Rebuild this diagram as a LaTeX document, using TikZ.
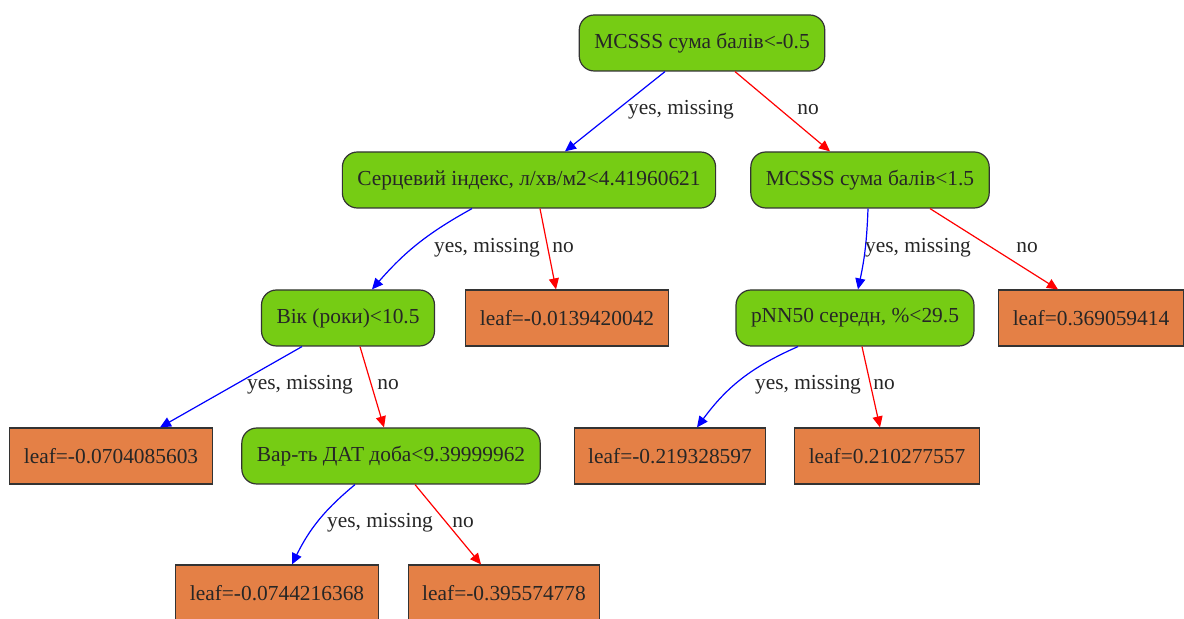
\documentclass[tikz,border=0pt]{standalone}
\usepackage{fontspec}
\setmainfont{Liberation Serif}
\usetikzlibrary{arrows.meta}
\usetikzlibrary{positioning}
\definecolor{splitgreen}{HTML}{76CC14}
\definecolor{leaforange}{HTML}{E48046}
\tikzset{
  split/.style={draw=black!80, fill=splitgreen, rounded corners=7.5pt,
    line width=0.6pt, minimum height=28pt, inner xsep=7.5pt,
    font=\fontsize{10.7}{12}\selectfont, text=black!85},
  leaf/.style={draw=black!80, fill=leaforange,
    line width=0.6pt, minimum height=28pt, inner xsep=7pt,
    font=\fontsize{10.7}{12}\selectfont, text=black!85},
  lbl/.style={inner sep=0, font=\fontsize{10.7}{12}\selectfont, text=black!85},
  yesarrow/.style={-{Triangle[length=5.5pt,width=5pt]}, blue, line width=0.6pt},
  noarrow/.style={-{Triangle[length=5.5pt,width=5pt]}, red, line width=0.6pt}
}

\begin{document}
\begin{tikzpicture}[x=0.5pt,y=0.5pt]
  \useasboundingbox (0,0) rectangle (1184,-619);
  % split nodes
  \node[split] (root) at (702,-43) {MCSSS сума балів<-0.5};
  \node[split] (heart) at (529,-180) {Серцевий індекс, л/хв/м2<4.41960621};
  \node[split] (mcsss) at (870,-180) {MCSSS сума балів<1.5};
  \node[split] (age) at (348,-318) {Вік (роки)<10.5};
  \node[split] (pnn) at (855,-318) {pNN50 середн, \%<29.5};
  \node[split] (dat) at (391,-456) {Вар-ть ДАТ доба<9.39999962};
  % leaves
  \node[leaf] (l1) at (567,-318) {leaf=-0.0139420042};
  \node[leaf] (l2) at (1091,-318) {leaf=0.369059414};
  \node[leaf] (l3) at (111,-456) {leaf=-0.0704085603};
  \node[leaf] (l4) at (670,-456) {leaf=-0.219328597};
  \node[leaf] (l5) at (887,-456) {leaf=0.210277557};
  \node[leaf] (l6) at (277,-593) {leaf=-0.0744216368};
  \node[leaf] (l7) at (504,-593) {leaf=-0.395574778};
  % edges
  \draw[yesarrow] ([xshift=-18.5pt]root.south) -- ([xshift=18pt]heart.north);
  \draw[noarrow] ([xshift=16.5pt]root.south) -- ([xshift=-20pt]mcsss.north);
  \draw[yesarrow] ([xshift=-28.5pt]heart.south) to[bend right=10] ([xshift=12pt]age.north);
  \draw[noarrow] ([xshift=5.5pt]heart.south) -- ([xshift=-5.5pt]l1.north);
  \draw[yesarrow] ([xshift=-1pt]mcsss.south) to[bend left=5] ([xshift=1.5pt]pnn.north);
  \draw[noarrow] ([xshift=30pt]mcsss.south) -- ([xshift=-16.5pt]l2.north);
  \draw[yesarrow] ([xshift=-23pt]age.south) -- ([xshift=24.5pt]l3.north);
  \draw[noarrow] ([xshift=6pt]age.south) -- ([xshift=-3.5pt]dat.north);
  \draw[yesarrow] ([xshift=-28.5pt]pnn.south) to[bend right=15] ([xshift=13.5pt]l4.north);
  \draw[noarrow] ([xshift=3.5pt]pnn.south) -- ([xshift=-3.5pt]l5.north);
  \draw[yesarrow] ([xshift=-18pt]dat.south) to[bend right=12] ([xshift=7.5pt]l6.north);
  \draw[noarrow] ([xshift=12pt]dat.south) -- ([xshift=-11.5pt]l7.north);
  % edge labels
  \node[lbl] (t1) at (681,-110) {yes, missing};
  \node[lbl] (t2) at (808,-110) {no};
  \node[lbl] (t3) at (487,-248) {yes, missing};
  \node[lbl] (t4) at (563,-248) {no};
  \node[lbl] (t5) at (918,-248) {yes, missing};
  \node[lbl] (t6) at (1027,-248) {no};
  \node[lbl] (t7) at (300,-385) {yes, missing};
  \node[lbl] (t8) at (388,-385) {no};
  \node[lbl] (t9) at (808,-385) {yes, missing};
  \node[lbl] (t10) at (884,-385) {no};
  \node[lbl] (t11) at (380,-523) {yes, missing};
  \node[lbl] (t12) at (463,-523) {no};
\end{tikzpicture}
\end{document}
